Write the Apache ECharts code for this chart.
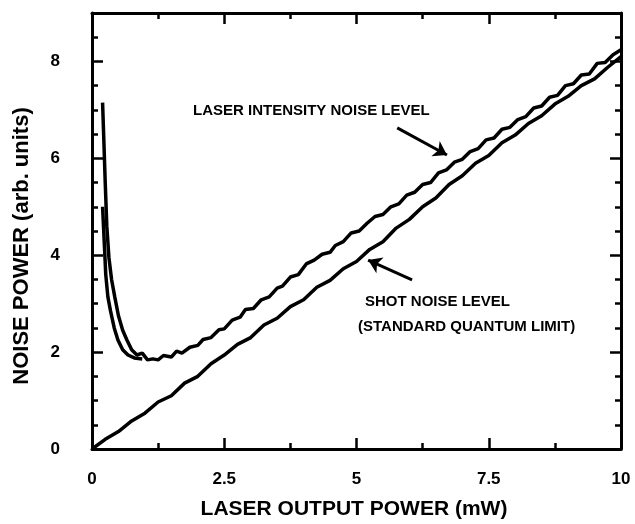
<!DOCTYPE html>
<html>
<head>
<meta charset="utf-8">
<script src="https://cdn.jsdelivr.net/npm/echarts@6/dist/echarts.min.js"></script>
<style>
  html, body { margin: 0; padding: 0; background: #fff; }
  #chart { width: 635px; height: 524px; }
</style>
</head>
<body>
<div id="chart"></div>
<script>
// laser intensity noise trace (mW, arb. units)
var intensityX = [0.2, 0.22, 0.25, 0.28, 0.32, 0.37, 0.43, 0.5, 0.58, 0.66, 0.75, 0.85, 0.95, 1.05, 1.15, 1.25, 1.35, 1.5, 1.6, 1.7, 1.85,
  2.0, 2.1, 2.25, 2.4, 2.5, 2.65, 2.8, 2.9, 3.05, 3.2, 3.35, 3.5, 3.6, 3.75, 3.9, 4.05, 4.2, 4.35, 4.5, 4.6, 4.75, 4.9,
  5.05, 5.2, 5.35, 5.5, 5.65, 5.8, 5.95, 6.1, 6.25, 6.4, 6.55, 6.7, 6.85, 7.0, 7.15, 7.3, 7.45, 7.6, 7.75, 7.9,
  8.05, 8.2, 8.35, 8.5, 8.65, 8.8, 8.95, 9.1, 9.25, 9.4, 9.55, 9.7, 9.85, 10];
var intensityY = [7.15, 6.5, 5.5, 4.6, 3.95, 3.5, 3.14, 2.75, 2.45, 2.25, 2.05, 1.94, 1.98, 1.84, 1.86, 1.84, 1.93, 1.9, 2.02, 1.98, 2.1,
  2.14, 2.26, 2.3, 2.46, 2.48, 2.66, 2.72, 2.88, 2.9, 3.08, 3.14, 3.32, 3.36, 3.55, 3.6, 3.82, 3.9, 4.02, 4.06, 4.2, 4.28, 4.46,
  4.5, 4.66, 4.8, 4.84, 5.0, 5.06, 5.24, 5.3, 5.46, 5.5, 5.7, 5.76, 5.92, 5.98, 6.14, 6.2, 6.38, 6.42, 6.6, 6.64,
  6.8, 6.86, 7.04, 7.08, 7.26, 7.3, 7.5, 7.54, 7.72, 7.74, 7.96, 7.98, 8.14, 8.24];

// second low-power trace of the intensity noise
var innerX = [0.2, 0.23, 0.26, 0.3, 0.35, 0.42, 0.49, 0.58, 0.68, 0.8, 0.95];
var innerY = [5.0, 4.3, 3.6, 3.14, 2.85, 2.5, 2.25, 2.05, 1.94, 1.88, 1.86];

// shot noise level
var shotX = [0, 0.25, 0.5, 0.75, 1.0, 1.25, 1.5, 1.75, 2.0, 2.25, 2.5, 2.75, 3.0, 3.25, 3.5, 3.75, 4.0, 4.25, 4.5, 4.75,
  5.0, 5.25, 5.5, 5.75, 6.0, 6.25, 6.5, 6.75, 7.0, 7.25, 7.5, 7.75, 8.0, 8.25, 8.5, 8.75, 9.0, 9.25, 9.5, 9.75, 10];
var shotY = [0, 0.2, 0.36, 0.58, 0.74, 0.97, 1.1, 1.36, 1.5, 1.76, 1.94, 2.16, 2.3, 2.56, 2.7, 2.94, 3.08, 3.34, 3.48, 3.72,
  3.87, 4.12, 4.28, 4.56, 4.74, 5.0, 5.18, 5.46, 5.64, 5.9, 6.06, 6.32, 6.48, 6.72, 6.88, 7.12, 7.28, 7.5, 7.64, 7.88, 8.1];

// annotation arrows: [from, to] in data coords
var arrowIntensity = [[5.77, 6.63], [6.71, 6.07]];
var arrowShot = [[6.05, 3.49], [5.22, 3.9]];

function pairs(xs, ys) {
  return xs.map(function (x, i) { return [x, ys[i]]; });
}

var chart = echarts.init(document.getElementById('chart'));
var FONT = '"Liberation Sans", Arial, sans-serif';
var GRID = { left: 92, right: 14, top: 13, bottom: 75, containLabel: false };

// 4 overlapping grids: 0 = bottom/left major, 1 = top/right major, 2 = bottom/left minor, 3 = top/right minor
function xAx(g, pos, major) {
  return {
    gridIndex: g, type: 'value', min: 0, max: 10, interval: major ? 2.5 : 1.25,
    position: pos,
    axisLine: { show: major, onZero: false, lineStyle: { color: '#000', width: 3 } },
    axisTick: { show: true, inside: true, length: major ? 11 : 6, lineStyle: { color: '#000', width: 2.5 } },
    splitLine: { show: false },
    axisLabel: {
      show: g === 0, margin: 22, color: '#000',
      fontFamily: FONT, fontWeight: 'bold', fontSize: 17,
      formatter: function (v) { return String(v); }
    }
  };
}
function yAx(g, pos, major) {
  return {
    gridIndex: g, type: 'value', min: 0, max: 9, interval: major ? 2 : 0.5,
    position: pos,
    axisLine: { show: major, onZero: false, lineStyle: { color: '#000', width: 3 } },
    axisTick: { show: true, inside: true, length: major ? 11 : 6, lineStyle: { color: '#000', width: 2.5 } },
    splitLine: { show: false },
    axisLabel: {
      show: g === 0, margin: 32, color: '#000', showMaxLabel: false,
      fontFamily: FONT, fontWeight: 'bold', fontSize: 17,
      formatter: function (v) { return v % 2 === 0 ? String(v) : ''; }
    }
  };
}

var lineBase = {
  type: 'line', xAxisIndex: 0, yAxisIndex: 0,
  showSymbol: false, symbol: 'none', silent: true,
  lineStyle: { color: '#000', width: 3.5 }
};

// empty series so that every frame grid gets its axes
function dummy(i) {
  return { type: 'line', xAxisIndex: i, yAxisIndex: i, data: [], silent: true, showSymbol: false };
}

chart.setOption({
  animation: false,
  backgroundColor: '#fff',
  grid: [GRID, GRID, GRID, GRID],
  xAxis: [xAx(0, 'bottom', true), xAx(1, 'top', true), xAx(2, 'bottom', false), xAx(3, 'top', false)],
  yAxis: [yAx(0, 'left', true), yAx(1, 'right', true), yAx(2, 'left', false), yAx(3, 'right', false)],
  graphic: [
    { type: 'text', x: 22, y: 246, rotation: Math.PI / 2,
      style: { text: 'NOISE POWER (arb. units)', font: 'bold 22px ' + FONT, fill: '#000', align: 'center', verticalAlign: 'middle' } },
    { type: 'text', x: 354, y: 509,
      style: { text: 'LASER OUTPUT POWER (mW)', font: 'bold 21px ' + FONT, fill: '#000', align: 'center', verticalAlign: 'middle' } },
    { type: 'text', x: 193, y: 111,
      style: { text: 'LASER INTENSITY NOISE LEVEL', font: 'bold 15px ' + FONT, fill: '#000', align: 'left', verticalAlign: 'middle' } },
    { type: 'text', x: 365, y: 302,
      style: { text: 'SHOT NOISE LEVEL', font: 'bold 15px ' + FONT, fill: '#000', align: 'left', verticalAlign: 'middle' } },
    { type: 'text', x: 358, y: 327,
      style: { text: '(STANDARD QUANTUM LIMIT)', font: 'bold 15px ' + FONT, fill: '#000', align: 'left', verticalAlign: 'middle' } }
  ],
  series: [
    Object.assign({}, lineBase, { name: 'intensity', data: pairs(intensityX, intensityY) }),
    Object.assign({}, lineBase, { name: 'intensity2', data: pairs(innerX, innerY) }),
    Object.assign({}, lineBase, {
      name: 'shot', data: pairs(shotX, shotY),
      markLine: {
        silent: true, symbol: ['none', 'arrow'], symbolSize: 13,
        label: { show: false },
        lineStyle: { color: '#000', width: 3, type: 'solid' },
        data: [
          [{ coord: arrowIntensity[0] }, { coord: arrowIntensity[1] }],
          [{ coord: arrowShot[0] }, { coord: arrowShot[1] }]
        ]
      }
    }),
    dummy(1), dummy(2), dummy(3)
  ]
});
</script>
</body>
</html>
